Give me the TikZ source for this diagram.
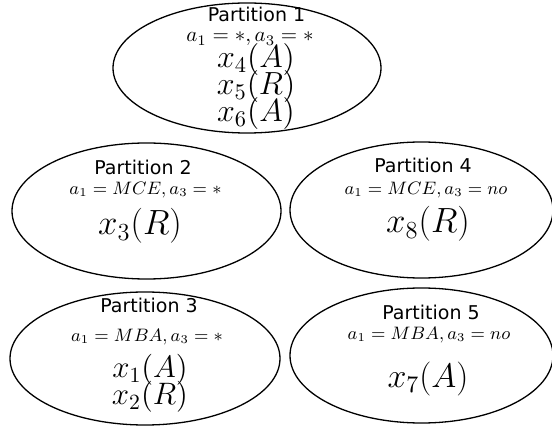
\RequirePackage{fix-cm}
\documentclass[tikz,border=0pt]{standalone}
\usepackage{fontspec}
\newfontfamily\partfont{DejaVu Sans}
\usetikzlibrary{shapes.geometric}

\begin{document}
\begin{tikzpicture}[
  x=0.5pt, y=-0.5pt,
  part/.style={draw, ellipse, line width=0.65pt, inner sep=0pt},
  title/.style={anchor=base, inner sep=0pt, font=\partfont\fontsize{9.5}{11}\selectfont},
  cond/.style={anchor=base, inner sep=0pt, font=\fontsize{9}{11}\selectfont},
  item/.style={anchor=base, inner sep=0pt, font=\fontsize{17.5}{20}\selectfont}
]
\useasboundingbox (0,0) rectangle (552,427);
% partitions
\node[part, minimum width=134pt, minimum height=65pt] (p1) at (247,68) {};
\node[part, minimum width=134.5pt, minimum height=68pt] (p2) at (146.5,211) {};
\node[part, minimum width=135pt, minimum height=66.5pt] (p3) at (145,358.5) {};
\node[part, minimum width=131.5pt, minimum height=68pt] (p4) at (421.5,210) {};
\node[part, minimum width=131.5pt, minimum height=67.5pt] (p5) at (421.5,355.5) {};

% partition 1
\node[title] (t1) at (256.5,22) {Partition 1};
\node[cond, font=\fontsize{10.5}{12}\selectfont] (c1) at (250,42) {$a_1=*,a_3=*$};
\node[item, font=\fontsize{16}{18}\selectfont] (x4) at (256,68) {$x_4(A)$};
\node[item, font=\fontsize{16}{18}\selectfont] (x5) at (256,95) {$x_5(R)$};
\node[item, font=\fontsize{16}{18}\selectfont] (x6) at (256,122) {$x_6(A)$};

% partition 2
\node[title] (t2) at (143,175) {Partition 2};
\node[cond] (c2) at (145.5,195) {$a_1=MCE,a_3=*$};
\node[item] (x3) at (140,235) {$x_3(R)$};

% partition 4
\node[title] (t4) at (423,173) {Partition 4};
\node[cond] (c4) at (426,195) {$a_1=MCE,a_3=no$};
\node[item] (x8) at (428,233) {$x_8(R)$};

% partition 3
\node[title] (t3) at (149,313) {Partition 3};
\node[cond] (c3) at (147,342) {$a_1=MBA,a_3=*$};
\node[item, font=\fontsize{15.5}{18}\selectfont] (x1) at (150,378) {$x_1(A)$};
\node[item, font=\fontsize{15.5}{18}\selectfont] (x2) at (150,405) {$x_2(R)$};

% partition 5
\node[title] (t5) at (431,320) {Partition 5};
\node[cond] (c5) at (429,340) {$a_1=MBA,a_3=no$};
\node[item, font=\fontsize{17}{20}\selectfont] (x7) at (428,387) {$x_7(A)$};
\end{tikzpicture}
\end{document}
